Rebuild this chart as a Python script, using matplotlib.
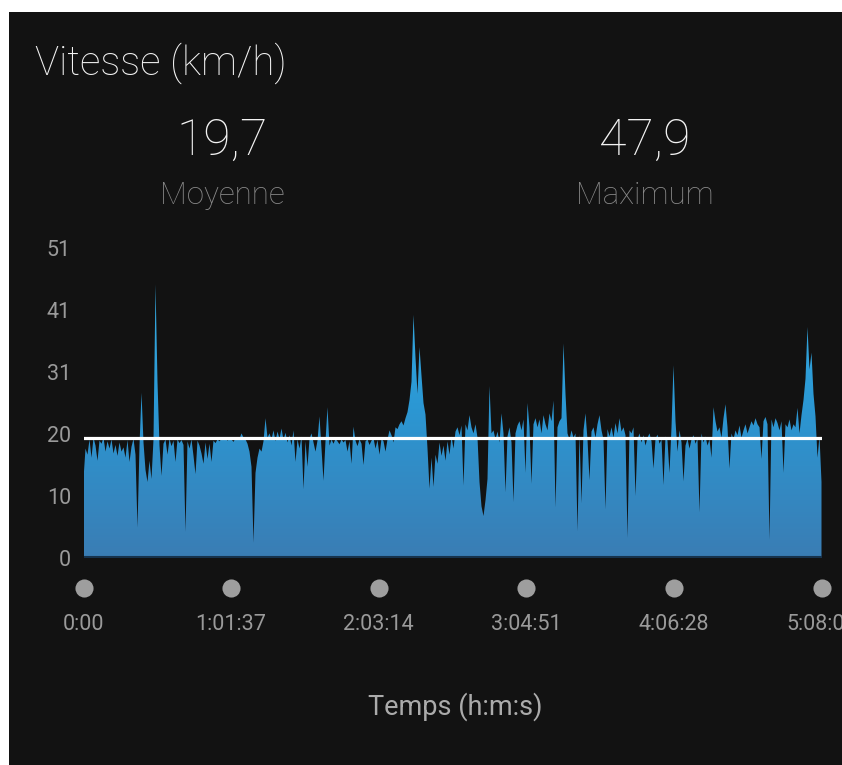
import numpy as np
import matplotlib
matplotlib.use("Agg")
import matplotlib.pyplot as plt
from matplotlib.colors import LinearSegmentedColormap
from matplotlib.patches import PathPatch, Rectangle

# ---------------- data ----------------
title = "Vitesse (km/h)"
avg_speed = 19.7
max_speed = 47.9
avg_label, max_label = "Moyenne", "Maximum"
total_seconds = 18485  # 5:08:05

xtick_seconds = [0, 3697, 7394, 11091, 14788, 18485]
xtick_labels = ["0:00", "1:01:37", "2:03:14", "3:04:51", "4:06:28", "5:08:05"]
ytick_labels = ["0", "10", "20", "31", "41", "51"]
y_max = 51
x_label = "Temps (h:m:s)"

speed_seg1 = [13, 18, 17, 19.5, 16.5, 19.8, 18.5, 16, 19.3, 18.8,
              19.8, 17.5, 19.2, 18, 19.5, 17.2, 18.6, 16.8, 19.0, 17.5,
              18.2, 16.5, 19.4, 15.8, 18.3, 19.6, 17.0, 5.0, 18.5, 27.2,
              19.0, 14.5, 12.5, 16.0, 13.0, 19.5, 45.0, 29.0, 18.5, 13.5,
              18.8, 19.5, 17.0, 19.6, 18.4, 19.3, 15.8, 19.5, 18.9, 19.4,
              18.6, 4.3, 19.2, 18.0, 19.5, 16.8, 13.8, 19.3, 18.5, 17.2,
              15.5, 19.0, 16.3, 18.8, 15.8, 19.3, 18.9, 19.5, 19.2, 19.6,
              19.4, 19.7, 19.3, 19.6]
speed_seg2 = [19.5, 19.1, 19.7, 19.4, 19.6, 20.5,
              19.8, 19.5, 18.8, 17.5, 15.0, 2.5, 14.0, 16.5, 18.0, 17.5,
              19.2, 23.0, 19.8, 20.5, 19.5, 21.0, 19.2, 20.8, 19.6, 21.3,
              19.4, 20.6, 19.0, 20.2, 18.5, 21.0, 15.8, 19.5, 18.0, 20.0,
              11.3, 19.2, 15.0, 19.6, 20.5, 19.0, 17.5, 19.3, 23.3, 18.0,
              12.7, 19.2, 24.8, 18.5, 19.5, 18.8, 19.6, 19.2, 18.7, 19.5,
              19.0, 19.4, 17.5, 19.2, 15.5, 21.6, 19.3, 18.4, 19.5, 18.8,
              15.3, 19.2, 19.5, 18.6, 19.3, 19.7, 18.0, 19.4]
speed_seg3 = [17.0, 19.6,
              19.2, 17.5, 19.5, 21.0, 20.2, 19.0, 21.5, 21.2, 22.0, 22.5,
              21.8, 23.0, 24.0, 26.0, 29.0, 40.0, 33.0, 27.0, 34.7, 30.0,
              25.5, 23.6, 18.0, 11.4, 16.5, 11.7, 17.0, 15.5, 19.0, 16.8,
              18.5, 16.0, 19.2, 17.0, 20.0, 18.0, 20.8, 21.5, 20.2, 21.8,
              11.9, 22.0, 21.0, 23.5, 21.5, 20.5, 22.0, 19.8, 12.5, 8.5,
              6.9, 9.5, 13.0, 28.3, 20.5, 21.0, 19.5, 20.8, 19.0, 23.8,
              20.5, 10.8, 20.0, 21.5, 19.0, 9.2, 20.5, 21.8, 22.5, 21.0,
              22.8, 14.0]
speed_seg4 = [25.5, 21.5, 12.2, 22.0, 23.0, 21.5, 22.8, 20.5,
              23.5, 22.0, 21.0, 23.8, 22.5, 25.9, 8.3, 21.5, 22.5, 23.0,
              35.3, 27.0, 20.5, 19.5, 21.0, 19.8, 20.5, 4.4, 20.5, 9.0,
              21.0, 23.8, 19.5, 12.8, 20.8, 21.5, 19.8, 22.0, 23.5, 21.0,
              19.5, 8.0, 21.2, 20.0, 21.5, 19.8, 22.2, 20.5, 23.0, 20.8,
              21.5, 20.2, 3.3, 21.0, 20.5, 21.5, 10.2, 19.5, 20.5, 19.0,
              20.2, 18.5, 19.8, 20.5, 19.2, 14.7, 19.6, 20.3, 18.8, 19.5,
              12.0, 20.0, 19.3, 14.0, 21.5, 31.7]
speed_seg5 = [22.5, 17.5, 21.0, 19.0,
              12.6, 18.5, 19.6, 18.0, 19.5, 20.2, 18.8, 19.7, 7.5, 20.5,
              19.0, 20.0, 18.5, 19.5, 16.5, 24.8, 22.5, 20.8, 21.5, 19.8,
              23.0, 25.3, 21.5, 14.7, 20.5, 19.5, 21.0, 20.2, 21.8, 19.8,
              21.0, 22.0, 20.5, 21.5, 22.5, 21.8, 23.0, 22.0, 21.5, 16.3,
              22.5, 23.2, 22.0, 3.0, 22.8, 21.5, 23.0, 22.2, 21.0, 22.5,
              14.0, 22.0, 21.5, 22.8, 21.0, 22.0, 21.5, 24.7, 20.5, 23.5,
              26.0, 29.5, 38.0, 31.0, 33.8, 27.0, 23.3, 16.5, 20.0, 12.5]

speed = np.array(speed_seg1 + speed_seg2 + speed_seg3 + speed_seg4 + speed_seg5)
t = np.linspace(0, total_seconds, len(speed))

# ---------------- figure ----------------
W, H = 842, 765
BG = "#121212"
plt.rcParams["font.family"] = ["Roboto", "DejaVu Sans"]

fig = plt.figure(figsize=(W / 100, H / 100), dpi=100, facecolor="white")
fig.patches.append(Rectangle((9 / W, 0), 1, 1 - 12 / H, transform=fig.transFigure,
                             facecolor=BG, edgecolor="none", zorder=-10))

def fx(px):
    return px / W

def fy(py):
    return 1 - py / H

ax_left, ax_right, ax_bottom, ax_top = 83.5, 821.5, 558, 248
ax = fig.add_axes([fx(ax_left), fy(ax_bottom), (ax_right - ax_left) / W, (ax_bottom - ax_top) / H])
ax.set_zorder(2)
ax.set_facecolor("none")
ax.set_xlim(0, total_seconds)
ax.set_ylim(0, y_max)
for s in ax.spines.values():
    s.set_visible(False)

# gradient area
poly = ax.fill_between(t, speed, 0, facecolor="none", edgecolor="none")
path = poly.get_paths()[0]
patch = PathPatch(path, transform=ax.transData, facecolor="none", edgecolor="none")
ax.add_patch(patch)
cmap = LinearSegmentedColormap.from_list("g", ["#3a7db4", "#2b98d4", "#3ab2e6"])
grad = np.linspace(0, 1, 256).reshape(-1, 1)
im = ax.imshow(grad, extent=[0, total_seconds, 0, y_max], origin="lower",
               aspect="auto", cmap=cmap, zorder=2, interpolation="bilinear")
im.set_clip_path(patch)

# bottom dark edge
ax.axhline(0.15, color="#16324c", lw=1.5, zorder=3)

# average line
ax.axhline(avg_speed, color="white", lw=2.3, zorder=4)

# y ticks
ytick_vals = np.linspace(0, y_max, len(ytick_labels))
ax.set_yticks(ytick_vals, ytick_labels)
ax.tick_params(axis="y", length=0, pad=9, labelsize=15.5, labelcolor="#9a9a9a")

# x ticks: circles + labels
ax.set_xticks([])
xt = ax.get_xaxis_transform()
circ_y = -(588 - ax_bottom) / (ax_bottom - ax_top)
lab_y = -(625 - ax_bottom) / (ax_bottom - ax_top)
ax.scatter(xtick_seconds, [circ_y] * len(xtick_seconds), s=170, color="#9e9e9e",
           transform=xt, clip_on=False, zorder=5, linewidths=0)
for xs, lab in zip(xtick_seconds, xtick_labels):
    ax.text(xs, lab_y, lab, transform=xt, ha="center", va="center",
            fontsize=15.5, color="#9a9a9a", clip_on=False)

# headings
fig.text(fx(35), fy(63), title, ha="left", va="center", fontsize=29,
         color="#f2f2f2", fontweight="light")
fig.text(fx(222), fy(141), f"{avg_speed:.1f}".replace(".", ","), ha="center",
         va="center", fontsize=36, color="#f2f2f2", fontweight="light")
fig.text(fx(222), fy(196), avg_label, ha="center", va="center", fontsize=22.5,
         color="#8a8a8a", fontweight="light")
fig.text(fx(645), fy(141), f"{max_speed:.1f}".replace(".", ","), ha="center",
         va="center", fontsize=36, color="#f2f2f2", fontweight="light")
fig.text(fx(645), fy(196), max_label, ha="center", va="center", fontsize=22.5,
         color="#8a8a8a", fontweight="light")
fig.text(fx(455), fy(707), x_label, ha="center", va="center", fontsize=19.5,
         color="#ababab")

fig.savefig("out.png", dpi=100, facecolor="white")
